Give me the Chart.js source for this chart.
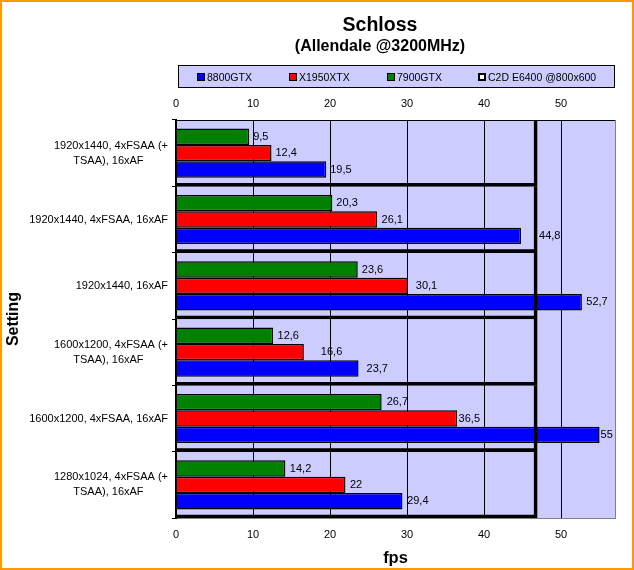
<!DOCTYPE html>
<html>
<head>
<meta charset="utf-8">
<script src="https://cdn.jsdelivr.net/npm/chart.js@4"></script>
<style>
  html, body { margin: 0; padding: 0; background: #fff; }
  #frame { position: relative; width: 630px; height: 566px; border: 2px solid #FF9900; overflow: hidden;
           font-family: "Liberation Sans", Arial, sans-serif; color: #000; }
  #chart { position: absolute; left: -2px; top: -2px; }
  #title, #subtitle { position: absolute; left: 178px; width: 400px; text-align: center; font-weight: bold; white-space: nowrap; }
  #title { top: 10px; font-size: 19.5px; line-height: 24px; }
  #subtitle { top: 34px; font-size: 16px; line-height: 20px; }
  #legend { position: absolute; left: 176px; top: 63px; width: 435px; height: 21px; border: 1px solid #000; background: #CCCCFF; font-size: 10.5px; }
  #legend span { position: absolute; top: 5px; white-space: nowrap; }
  #legend i { position: absolute; top: 7px; width: 6px; height: 6px; border: 1px solid #000; }
</style>
</head>
<body>
<div id="frame">
  <canvas id="chart" width="634" height="570"></canvas>
  <div id="title">Schloss</div>
  <div id="subtitle">(Allendale @3200MHz)</div>
  <div id="legend"></div>
</div>
<script>
// Ajustes, de arriba hacia abajo
const settings = [
  ['1920x1440, 4xFSAA (+', 'TSAA), 16xAF'],
  '1920x1440, 4xFSAA, 16xAF',
  '1920x1440, 16xAF',
  ['1600x1200, 4xFSAA (+', 'TSAA), 16xAF'],
  '1600x1200, 4xFSAA, 16xAF',
  ['1280x1024, 4xFSAA (+', 'TSAA), 16xAF']
];
const fps7900 = [9.5, 20.3, 23.6, 12.6, 26.7, 14.2];
const fpsX1950 = [12.4, 26.1, 30.1, 16.6, 36.5, 22];
const fps8800 = [19.5, 44.8, 52.7, 23.7, 55, 29.4];
const fpsC2D = [46.9, 46.9, 46.9, 46.9, 46.9, 46.9];

const seriesNames = ['8800GTX', 'X1950XTX', '7900GTX', 'C2D E6400 @800x600'];
const seriesColors = ['#0000FF', '#FF0000', '#008000', '#FFFFFF'];
const legendX = [18, 110, 208, 299];

// Separacion barra-etiqueta, el original no la tiene uniforme
const gaps7900 = [4, 4, 4, 4.5, 5, 4.5];
const gapsX1950 = [4, 4.5, 8, 17, 1.5, 4.5];
const gaps8800 = [4, 18, 4.4, 8, 1, 4.7];
const labelGaps = [gaps7900, gapsX1950, gaps8800];

const FONT = '"Liberation Sans", Arial, sans-serif';
const PLOT = '#CCCCFF';

// Leyenda
const legendBox = document.getElementById('legend');
seriesNames.forEach((name, i) => {
  const sw = document.createElement('i');
  sw.style.left = legendX[i] + 'px';
  sw.style.background = seriesColors[i];
  if (i == 3) {
    sw.style.borderWidth = '2px';
    sw.style.width = '4px';
    sw.style.height = '4px';
  }
  legendBox.appendChild(sw);
  const txt = document.createElement('span');
  txt.style.left = (legendX[i] + 10) + 'px';
  txt.textContent = name;
  legendBox.appendChild(txt);
});

// Fondo del area de trazado
const plotBackground = {
  id: 'plotBackground',
  beforeDraw(chart) {
    const a = chart.chartArea;
    chart.ctx.fillStyle = PLOT;
    chart.ctx.fillRect(a.left, a.top, a.right - a.left, a.bottom - a.top);
  }
};

// Etiquetas de valor, con coma decimal
const valueLabels = {
  id: 'valueLabels',
  afterDatasetsDraw(chart) {
    const ctx = chart.ctx;
    ctx.save();
    ctx.font = '11px ' + FONT;
    ctx.fillStyle = '#000';
    ctx.textAlign = 'left';
    ctx.textBaseline = 'middle';
    [0, 1, 2].forEach(d => {
      chart.getDatasetMeta(d).data.forEach((bar, i) => {
        const v = chart.data.datasets[d].data[i];
        ctx.fillText(String(v).replace('.', ','), bar.x + labelGaps[d][i], bar.y);
      });
    });
    ctx.restore();
  }
};

const fixedSize = size => function (scale) {
  if (scale.isHorizontal()) scale.height = size; else scale.width = size;
};

const valueAxis = (position, size, padding) => ({
  position: position,
  min: 0,
  max: 57,
  afterFit: fixedSize(size),
  afterBuildTicks(scale) { scale.ticks = scale.ticks.filter(t => t.value <= 50); },
  ticks: { stepSize: 10, color: '#000', font: { size: 11, family: FONT }, maxRotation: 0, padding: padding },
  grid: { color: '#000', lineWidth: 1, drawTicks: false }
});

const bottomAxis = valueAxis('bottom', 50, 10);
bottomAxis.title = { display: true, text: 'fps', color: '#000', font: { size: 16.5, weight: 'bold', family: FONT }, padding: { top: 7, bottom: 0 } };
bottomAxis.border = { color: '#808080', width: 1 };
const topAxis = valueAxis('top', 28, 9);
topAxis.border = { color: '#000', width: 1 };
topAxis.grid = { drawOnChartArea: false, drawTicks: false };

const barStyle = { borderColor: '#000', borderWidth: 1.5, xAxisID: 'x', yAxisID: 'y', order: 2, barPercentage: 1, categoryPercentage: 0.74 };

new Chart(document.getElementById('chart'), {
  type: 'bar',
  data: {
    labels: settings,
    datasets: [
      { ...barStyle, label: seriesNames[2], data: fps7900, backgroundColor: seriesColors[2] },
      { ...barStyle, label: seriesNames[1], data: fpsX1950, backgroundColor: seriesColors[1] },
      { ...barStyle, label: seriesNames[0], data: fps8800, backgroundColor: seriesColors[0] },
      // C2D sin agrupar: barra hueca que ocupa toda la categoria
      { label: seriesNames[3], data: fpsC2D, backgroundColor: 'rgba(0,0,0,0)', borderColor: '#000', borderWidth: { top: 0, right: 3, bottom: 3, left: 0 }, xAxisID: 'x', yAxisID: 'y', order: 1, grouped: false, barPercentage: 1, categoryPercentage: 1 }
    ]
  },
  options: {
    indexAxis: 'y',
    responsive: false,
    animation: false,
    devicePixelRatio: 1,
    layout: { padding: { left: 4, right: 19, top: 92, bottom: 2 } },
    plugins: {
      legend: { display: false },
      tooltip: { enabled: false }
    },
    scales: {
      x: bottomAxis,
      x2: topAxis,
      y: {
        afterFit: fixedSize(172),
        title: { display: true, text: 'Setting', color: '#000', font: { size: 16, weight: 'bold', family: FONT }, padding: { top: 0, bottom: 0 } },
        ticks: {
          color: '#000',
          font: { size: 11, family: FONT, lineHeight: 1.35 },
          padding: 4,
          autoSkip: false,
          // segunda linea centrada dentro del bloque alineado a la derecha
          callback(value) {
            const lab = settings[value];
            return Array.isArray(lab) ? [lab[0], lab[1] + '        '] : lab;
          }
        },
        grid: { drawOnChartArea: false, color: '#000', tickLength: 4 },
        border: { color: '#000', width: 2 }
      },
      // eje sin datos, solo para el borde gris de la derecha
      y2: {
        type: 'category',
        position: 'right',
        afterFit: fixedSize(0),
        ticks: { display: false },
        grid: { drawOnChartArea: false, drawTicks: false },
        border: { color: '#808080', width: 1 }
      }
    }
  },
  plugins: [plotBackground, valueLabels]
});
</script>
</body>
</html>
